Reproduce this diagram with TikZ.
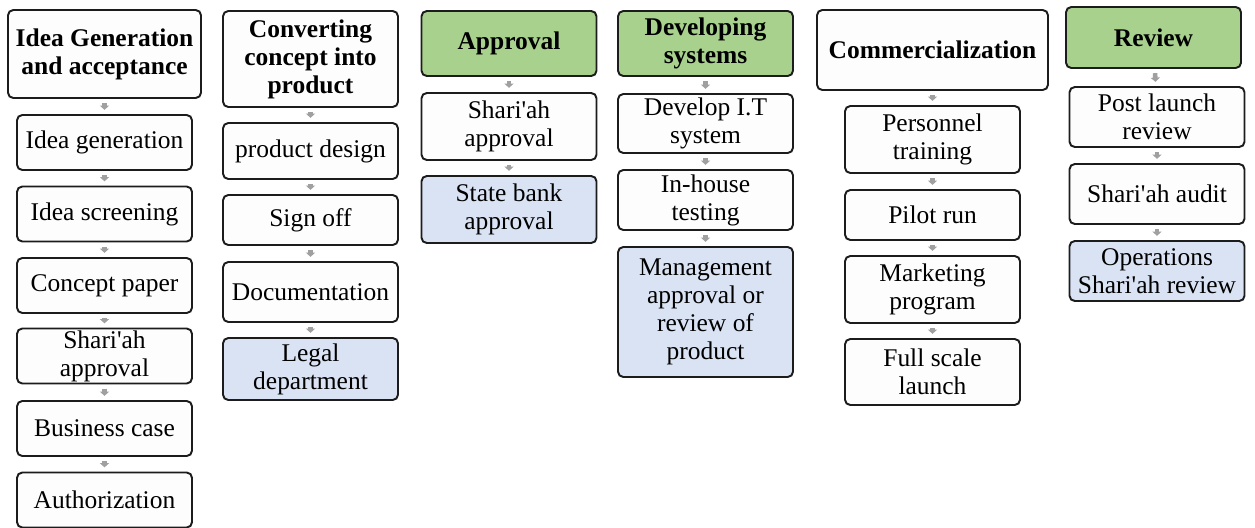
\documentclass[tikz,border=0pt]{standalone}
\usepackage{fontspec}
\newfontfamily\boxfont{Liberation Serif}
\definecolor{boxline}{RGB}{28,28,28}
\definecolor{boxwhite}{RGB}{253,253,253}
\definecolor{stagegreen}{RGB}{169,209,142}
\definecolor{stageblue}{RGB}{218,227,243}
\definecolor{arrgray}{RGB}{160,160,160}
\usetikzlibrary{arrows.meta}

\begin{document}
\begin{tikzpicture}[x=0.2mm,y=-0.2mm,
  stepbox/.style={draw=boxline,line width=1.1pt,rounded corners=3pt,fill=boxwhite,
    align=center,inner sep=1pt,font=\boxfont\fontsize{14.5}{16}\selectfont,
    minimum width=35mm,minimum height=11mm},
  headbox/.style={stepbox,font=\boxfont\fontsize{14.5}{16}\selectfont\bfseries},
  flowarr/.style={draw=arrgray,line width=2.6pt,-{Triangle[width=5.2pt,length=2.4pt]},
    shorten <=2.4pt,shorten >=2.4pt}
]
  \useasboundingbox (0,0) rectangle (1255,527);
  % Idea generation
  \node[headbox,minimum width=38.6mm,minimum height=17.6mm] (ig) at (104.5,54) {Idea Generation\\and acceptance};
  \node[stepbox] (ig1) at (104.5,142.5) {Idea generation};
  \node[stepbox] (ig2) at (104.5,214) {Idea screening};
  \node[stepbox] (ig3) at (104.5,285.5) {Concept paper};
  \node[stepbox] (ig4) at (104.5,356) {Shari'ah\\approval};
  \node[stepbox] (ig5) at (104.5,428.5) {Business case};
  \node[stepbox] (ig6) at (104.5,500) {Authorization};
  % Concept into product
  \node[headbox,minimum height=19.2mm] (cp) at (310.5,59) {Converting\\concept into\\product};
  \node[stepbox,minimum height=11.2mm] (cp1) at (310.5,151) {product design};
  \node[stepbox,minimum height=10mm] (cp2) at (310.5,220) {Sign off};
  \node[stepbox,minimum height=12mm] (cp3) at (310.5,292) {Documentation};
  \node[stepbox,minimum height=12.4mm,fill=stageblue] (cp4) at (310.5,369) {Legal\\department};
  % Approval
  \node[headbox,minimum height=13mm,fill=stagegreen] (ap) at (509,43.5) {Approval};
  \node[stepbox,minimum height=13.4mm] (ap1) at (509,126.5) {Shari'ah\\approval};
  \node[stepbox,minimum height=13.4mm,fill=stageblue] (ap2) at (509,209.5) {State bank\\approval};
  % Developing systems
  \node[headbox,minimum height=13mm,fill=stagegreen] (ds) at (705.5,43.5) {Developing\\systems};
  \node[stepbox,minimum height=11.8mm] (ds1) at (705.5,123.5) {Develop I.T\\system};
  \node[stepbox,minimum height=12mm] (ds2) at (705.5,200) {In-house\\testing};
  \node[stepbox,minimum height=26mm,fill=stageblue] (ds3) at (705.5,312) {Management\\approval or\\review of\\product};
  % Commercialization
  \node[headbox,minimum width=46.2mm,minimum height=16mm] (cm) at (932.5,50) {Commercialization};
  \node[stepbox,minimum height=13.4mm] (cm1) at (932.5,139.5) {Personnel\\training};
  \node[stepbox,minimum height=10mm] (cm2) at (932.5,215) {Pilot run};
  \node[stepbox,minimum height=13.4mm] (cm3) at (932.5,289.5) {Marketing\\program};
  \node[stepbox,minimum height=13.2mm] (cm4) at (932.5,372) {Full scale\\launch};
  % Review
  \node[headbox,minimum height=12.2mm,fill=stagegreen] (rv) at (1153.5,37.5) {Review};
  \node[stepbox,minimum height=12mm] (rv1) at (1157,117) {Post launch\\review};
  \node[stepbox,minimum height=12mm] (rv2) at (1157,194) {Shari'ah audit};
  \node[stepbox,minimum height=12mm,fill=stageblue] (rv3) at (1157,271) {Operations\\Shari'ah review};
  % small arrows down each column
  \foreach \a/\b in {ig/ig1,ig1/ig2,ig2/ig3,ig3/ig4,ig4/ig5,ig5/ig6,
                     cp/cp1,cp1/cp2,cp2/cp3,cp3/cp4,
                     ap/ap1,ap1/ap2,
                     ds/ds1,ds1/ds2,ds2/ds3,
                     cm/cm1,cm1/cm2,cm2/cm3,cm3/cm4,
                     rv/rv1,rv1/rv2,rv2/rv3}
    \draw[flowarr] (\a) -- (\b);
\end{tikzpicture}
\end{document}
